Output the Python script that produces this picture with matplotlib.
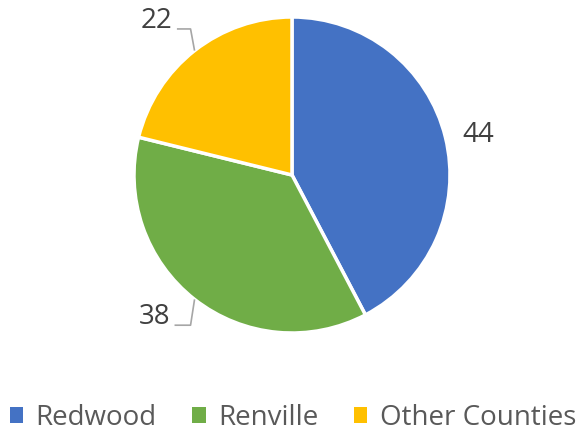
import matplotlib.pyplot as plt
import numpy as np
from matplotlib.patches import Patch

# data
counties = ["Redwood", "Renville", "Other Counties"]
counts = [44, 38, 22]
colors = ["#4472C4", "#70AD47", "#FFC000"]

plt.rcParams['font.family'] = ['Open Sans', 'DejaVu Sans']

W, H = 586, 433
fig = plt.figure(figsize=(W / 100, H / 100), dpi=100)
ax = fig.add_axes([0, 0, 1, 1])

cx, cy, R = 292, H - 175, 158
wedges, _ = ax.pie(counts, colors=colors, startangle=90, counterclock=False,
                   center=(cx, cy), radius=R,
                   wedgeprops=dict(edgecolor='white', linewidth=2.5))
ax.set_xlim(0, W)
ax.set_ylim(0, H)
ax.set_aspect('equal')
ax.axis('off')

# label placement (in units of the radius, relative to pie centre)
label_offset = [(1.18, 0.255), (-0.87, -0.9), (-0.855, 0.975)]
leader = [False, True, True]
for w, n, (ox, oy), lead in zip(wedges, counts, label_offset, leader):
    lx, ly = cx + ox * R, cy + oy * R
    ax.text(lx, ly, str(n), ha='center', va='center', fontsize=20, color='#404040')
    if lead:
        ang = np.deg2rad((w.theta1 + w.theta2) / 2)
        ex, ey = cx + R * np.cos(ang), cy + R * np.sin(ang)
        line_y = ly - 8
        ax.plot([ex, ex - 4, lx + 20], [ey, line_y, line_y],
                color='#A6A6A6', linewidth=1.2, solid_capstyle='butt')

handles = [Patch(facecolor=c, edgecolor='none') for c in colors]
fig.legend(handles, counties, loc='lower center', ncol=3, frameon=False,
           bbox_to_anchor=(0.5, -0.055), fontsize=20, handlelength=0.47,
           handleheight=0.47, handletextpad=0.45, columnspacing=1.3,
           labelcolor='#595959')

fig.savefig("out.png", dpi=100)
